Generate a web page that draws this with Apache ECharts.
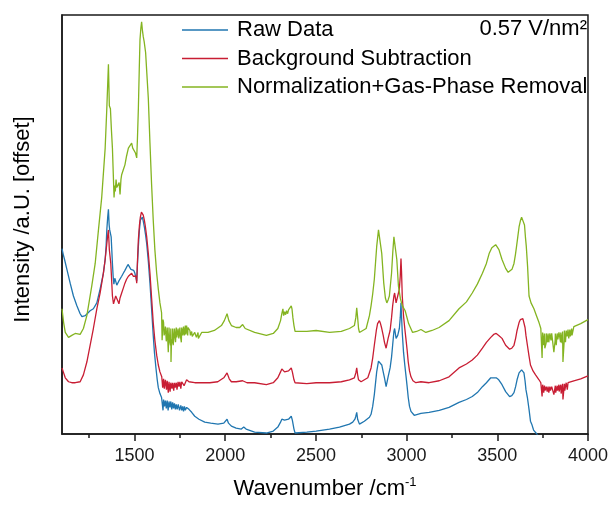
<!DOCTYPE html>
<html>
<head>
<meta charset="utf-8">
<script src="https://cdn.jsdelivr.net/npm/echarts@6/dist/echarts.min.js"></script>
<style>
  html, body { margin: 0; padding: 0; background: #fff; }
  #chart { width: 611px; height: 507px; }
</style>
</head>
<body>
<div id="chart"></div>
<script>
// IR spectra at 0.57 V/nm², three processing stages stacked with an offset.
// Each spectrum = smooth trace + the narrow noise spikes seen in the
// 1650-1850 and 3740-3920 cm^-1 windows.

const seriesNames = ['Raw Data', 'Background Subtraction', 'Normalization+Gas-Phase Removal'];
const fieldLabel = '0.57 V/nm²';

const majorTicks = [1500, 2000, 2500, 3000, 3500, 4000];
const minorTicks = [1250, 1750, 2250, 2750, 3250, 3750];

// Raw Data
const rawWn  = [1100,1107,1114,1127,1145,1163,1182,1200,1210,1218,1228,1237,1255,1273,1292,1310,1328,1338,1343,1347,1352,1356,1360,1363,1367,1371,1375,1378,1382,1386,1391,1396,1402,1407,1413,1420,1429,1438,1447,1457,1464,1471,1480,1488,1495,1502,1508,1512,1516,1521,1526,1532,1537,1543,1548,1554,1560,1567,1576,1585,1594,1603,1610,1618,1625,1631,1640,1649,1660,1670,1680,1690,1700,1710,1720,1730,1741,1755,1765,1775,1787,1800,1815,1832,1855,1887,1920,1960,1992,2003,2010,2018,2034,2060,2089,2102,2115,2162,2227,2265,2290,2305,2312,2318,2327,2333,2338,2349,2355,2364,2370,2379,2385,2391,2450,2501,2575,2630,2685,2703,2715,2720,2725,2730,2735,2740,2767,2795,2804,2813,2822,2835,2845,2850,2856,2863,2871,2878,2887,2898,2909,2917,2923,2930,2934,2942,2951,2960,2965,2969,2972,2976,2983,2990,2996,3003,3009,3016,3024,3042,3079,3124,3180,3234,3289,3330,3362,3390,3418,3440,3464,3480,3494,3508,3526,3546,3568,3580,3592,3601,3609,3620,3627,3634,3641,3647,3653,3658,3666,3675,3683,3690,3696,3700,3703,3711,3718,3726,3740,3760];
const rawVal = [ 188, 182, 177, 167, 153, 140, 130, 122, 119, 118, 120, 122, 125, 127, 133, 147, 163, 177, 190, 207, 220, 228, 212, 207, 205, 200, 185, 173, 160, 152, 158, 155, 151, 150, 155, 157, 160, 163, 166, 168, 172, 170, 167, 165, 166, 163, 162, 155, 172, 190, 205, 217, 219, 220, 216, 210, 203, 193, 175, 153, 127, 100,  82,  67,  55,  47,  41,  37,  35,  34,  34,  33,  33,  32,  31,  30,  30,  29,  28,  28,  27,  25,  22,  18,  15,  12,  11,  10,  11,  13,  15,  11,   8,   6,   5,   7,   5,   2,   1,   3,   7,  12,  15,  16,  14,  15,  14,  15,  16,  18,  14,   5,   1,   1,   2,   3,   5,   7,  10,  12,  15,  18,  22,  15,  13,  10,  13,  17,  20,  28,  40,  63,  74,  76,  74,  70,  63,  57,  48,  58,  67,  78,  90, 104, 107,  97, 100, 107, 118, 133, 120, 103,  83,  70,  60,  48,  37,  28,  23,  19,  21,  22,  24,  27,  32,  35,  38,  42,  48,  52,  57,  57,  57,  55,  50,  43,  38,  39,  42,  48,  55,  62,  64,  65,  64,  62,  54,  45,  37,  25,  13,  10,   8,   4,   6,   3,   0,  -2,  -6, -12];
const rawSpikeWn  = [1657,1665,1675,1685,1695,1705,1715,1725,1735,1748,1760,1770,1780];
const rawSpikeVal = [  24,  28,  26,  24,  27,  25,  26,  25,  25,  24,  24,  23,  24];

// Background Subtraction
const bgWn  = [1100,1109,1118,1136,1154,1173,1200,1218,1237,1255,1273,1292,1310,1328,1338,1347,1353,1356,1359,1361,1365,1369,1374,1378,1384,1389,1396,1402,1408,1414,1420,1429,1438,1447,1456,1466,1475,1484,1493,1502,1508,1512,1516,1521,1527,1532,1538,1543,1548,1554,1560,1567,1576,1585,1594,1603,1612,1622,1631,1640,1650,1660,1670,1680,1690,1700,1710,1720,1730,1740,1750,1760,1770,1787,1800,1832,1870,1915,1959,1992,2010,2022,2034,2060,2096,2120,2162,2227,2265,2290,2305,2312,2318,2327,2333,2338,2349,2355,2364,2370,2379,2385,2391,2450,2501,2575,2640,2685,2712,2720,2725,2730,2735,2749,2786,2804,2813,2822,2833,2840,2850,2856,2863,2871,2878,2887,2898,2909,2917,2923,2930,2934,2942,2951,2960,2965,2969,2972,2976,2983,2990,2996,3003,3009,3016,3024,3035,3051,3079,3124,3180,3234,3289,3330,3362,3390,3418,3440,3464,3480,3494,3508,3526,3546,3568,3580,3592,3601,3609,3620,3627,3634,3641,3647,3653,3658,3666,3675,3683,3697,3711,3730,3740,3750,3760,3770,3780,3790,3800,3810,3820,3830,3840,3850,3860,3870,3880,3890,3900,3922,3960,4000];
const bgVal = [  67,  62,  57,  53,  52,  52,  53,  60,  73,  90, 107, 127, 143, 163, 177, 193, 203, 207, 195, 187, 180, 173, 155, 140, 132, 133, 140, 142, 135, 132, 138, 143, 148, 153, 157, 160, 162, 163, 160, 158, 160, 153, 175, 197, 212, 220, 225, 227, 222, 217, 210, 200, 183, 163, 138, 113,  95,  80,  70,  63,  58,  56,  55,  54,  53,  52,  52,  52,  52,  53,  53,  53,  54,  55,  53,  52,  52,  52,  53,  57,  62,  56,  53,  53,  54,  52,  52,  50,  52,  57,  63,  66,  65,  63,  64,  63,  64,  66,  67,  63,  55,  52,  51,  51,  52,  52,  53,  55,  57,  62,  67,  60,  55,  53,  57,  67,  77,  90, 105, 112, 115, 112, 107, 100,  93,  87,  97, 105, 118, 130, 140, 143, 133, 140, 147, 160, 178, 165, 140, 120, 107,  97,  85,  73,  64,  58,  54,  52,  53,  52,  54,  58,  67,  71,  75,  80,  87,  93,  98, 101, 102, 100,  97,  90,  86,  87,  90,  97, 105, 113, 116, 117, 117, 115, 108, 100,  90,  79,  70,  64,  60,  55,  52,  50,  49,  48,  48,  48,  48,  48,  49,  49,  50,  50,  51,  51,  52,  52,  53,  54,  56,  59];
const bgSpikeWn  = [1655,1664,1676,1686,1696,1706,1716,1724,1734,1745,1755,1773,3747,3756,3763,3775,3784,3793,3812,3822,3832,3841,3852,3862,3872,3886];
const bgSpikeVal = [  47,  46,  45,  42,  43,  46,  44,  47,  45,  48,  46,  49,  38,  42,  44,  43,  42,  44,  40,  42,  44,  43,  41,  35,  44,  45];

// Normalization+Gas-Phase Removal
const normWn  = [1100,1109,1118,1136,1154,1173,1200,1218,1237,1246,1264,1283,1301,1319,1338,1347,1353,1356,1359,1361,1367,1372,1378,1387,1391,1394,1398,1402,1409,1415,1420,1425,1429,1438,1447,1456,1466,1475,1484,1490,1499,1505,1512,1516,1521,1526,1530,1535,1539,1543,1548,1553,1561,1568,1576,1585,1594,1603,1612,1622,1631,1640,1649,1660,1670,1680,1690,1700,1710,1720,1730,1740,1750,1760,1770,1780,1787,1795,1805,1815,1832,1850,1870,1905,1940,1979,1995,2010,2020,2034,2060,2080,2096,2110,2162,2227,2265,2290,2305,2312,2318,2322,2327,2333,2338,2344,2349,2355,2360,2364,2368,2373,2379,2385,2391,2450,2501,2575,2640,2685,2712,2720,2725,2730,2735,2740,2777,2795,2804,2813,2822,2835,2845,2850,2854,2863,2874,2883,2891,2898,2905,2917,2924,2930,2937,2946,2955,2966,2977,2992,3011,3033,3055,3079,3106,3140,3179,3234,3289,3330,3362,3390,3418,3440,3455,3470,3477,3491,3500,3509,3526,3546,3560,3568,3581,3592,3600,3606,3613,3620,3627,3634,3642,3650,3655,3660,3667,3675,3686,3702,3716,3730,3740,3750,3760,3770,3780,3790,3800,3810,3820,3830,3840,3850,3860,3870,3880,3890,3900,3910,3922,3960,4000];
const normVal = [ 127, 113, 103,  98, 100, 102, 101, 107, 120, 130, 150, 173, 207, 240, 290, 330, 360, 375, 350, 333, 330, 310, 290, 240, 252, 246, 258, 250, 248, 255, 243, 258, 263, 268, 273, 282, 290, 292, 295, 290, 292, 285, 280, 300, 330, 370, 400, 412, 418, 410, 403, 398, 387, 365, 340, 295, 253, 217, 187, 163, 147, 133, 123, 113, 109, 108, 108, 107, 107, 107, 108, 107, 108, 108, 109, 110, 110, 108, 105, 104, 103, 103, 103, 103, 105, 110, 115, 122, 115, 110, 108, 108, 111, 107, 103, 100, 102, 107, 115, 122, 127, 120, 124, 121, 125, 122, 126, 124, 128, 130, 127, 118, 110, 104, 103, 104, 105, 103, 104, 107, 110, 118, 128, 118, 107, 103, 107, 120, 130, 142, 157, 190, 207, 209, 207, 183, 153, 138, 133, 136, 140, 163, 185, 200, 202, 177, 150, 137, 130, 125, 112, 103, 104, 106, 103, 105, 108, 115, 127, 134, 143, 152, 163, 173, 183, 189, 190, 192, 190, 187, 177, 168, 164, 163, 167, 173, 182, 190, 200, 210, 216, 220, 218, 212, 200, 190, 170, 140, 133, 127, 120, 113, 107, 103, 102, 102, 102, 102, 102, 102, 102, 102, 103, 103, 104, 105, 105, 106, 106, 107, 109, 112, 116];
const normSpikeWn  = [1652,1657,1663,1668,1675,1678,1683,1686,1693,1698,1701,1704,1708,1713,1717,1726,1733,1736,1744,1753,1758,1766,1775,1783,1793,1808,1818,1823,1841,1852,3747,3756,3762,3769,3776,3784,3796,3812,3819,3825,3834,3849,3857,3862,3869,3876,3885,3894,3903,3912];
const normSpikeVal = [  95, 116, 100, 104,  94, 101,  96,  83,  95,  90,  73,  96,  92,  90,  98,  93,  98,  99,  97,  99,  93, 100, 100, 101, 100, 100,  99,  98,  98,  97,  77,  90,  87,  92,  93,  93,  95,  83,  95,  90,  96,  93,  92,  73,  95,  93,  99,  97,  99, 100];

const colors = ['#2076b0', '#c81d33', '#84b421'];
const font = "'Liberation Sans', Arial, sans-serif";

// Merge a smooth trace with its spike points into one wavenumber-ordered list.
function trace(wn, val, spikeWn, spikeVal) {
  const pts = wn.map((x, i) => [x, val[i]]).concat(spikeWn.map((x, i) => [x, spikeVal[i]]));
  return pts.sort((a, b) => a[0] - b[0]);
}

const chart = echarts.init(document.getElementById('chart'), null, { renderer: 'canvas' });

const axisLineStyle = { color: '#1a1a1a', width: 1.5 };

chart.setOption({
  animation: false,
  backgroundColor: '#ffffff',
  color: colors,
  grid: {
    left: 62, right: 22, top: 15, bottom: 67,
    show: true, borderColor: '#1a1a1a', borderWidth: 1.5
  },
  legend: {
    data: seriesNames,
    orient: 'vertical',
    left: 177,
    top: 12,
    icon: 'rect',
    itemWidth: 46,
    itemHeight: 1.4,
    itemGap: 2.5,
    textStyle: { fontFamily: font, fontSize: 22, color: '#000', lineHeight: 26, padding: [0, 0, 0, 4] }
  },
  graphic: [{
    type: 'text',
    right: 24,
    top: 18,
    style: { text: fieldLabel, font: '22px ' + font, fill: '#000' }
  }],
  xAxis: [{
    type: 'value',
    min: 1100, max: 4000,
    position: 'bottom',
    name: 'Wavenumber /cm{sup|-1}',
    nameLocation: 'middle',
    nameGap: 42,
    nameTextStyle: {
      fontFamily: font, fontSize: 22, color: '#000', lineHeight: 26,
      rich: { sup: { fontFamily: font, fontSize: 13, color: '#000', lineHeight: 14, verticalAlign: 'top' } }
    },
    axisLine: { show: true, lineStyle: axisLineStyle },
    axisTick: { show: true, inside: false, length: 7, lineStyle: axisLineStyle, customValues: majorTicks },
    axisLabel: { show: true, margin: 13, fontFamily: font, fontSize: 18, color: '#1a1a1a', customValues: majorTicks, formatter: v => String(v) },
    splitLine: { show: false }
  }, {
    type: 'value',
    min: 1100, max: 4000,
    position: 'bottom',
    axisLine: { show: false },
    axisTick: { show: true, inside: false, length: 4, lineStyle: axisLineStyle, customValues: minorTicks },
    axisLabel: { show: false },
    splitLine: { show: false }
  }],
  yAxis: {
    type: 'value',
    min: 0, max: 425,
    name: 'Intensity /a.U. [offset]',
    nameLocation: 'middle',
    nameGap: 28,
    nameTextStyle: { fontFamily: font, fontSize: 22, color: '#000', padding: [0, 0, 0, 10] },
    axisLine: { show: true, lineStyle: axisLineStyle },
    axisTick: { show: false },
    axisLabel: { show: false },
    splitLine: { show: false }
  },
  series: [
    { name: seriesNames[0], type: 'line', data: trace(rawWn, rawVal, rawSpikeWn, rawSpikeVal) },
    { name: seriesNames[1], type: 'line', data: trace(bgWn, bgVal, bgSpikeWn, bgSpikeVal) },
    { name: seriesNames[2], type: 'line', data: trace(normWn, normVal, normSpikeWn, normSpikeVal) }
  ].map(s => Object.assign(s, {
    xAxisIndex: 0,
    symbol: 'none',
    showSymbol: false,
    clip: true,
    sampling: null,
    lineStyle: { width: 1.3 }
  }))
});
</script>
</body>
</html>
